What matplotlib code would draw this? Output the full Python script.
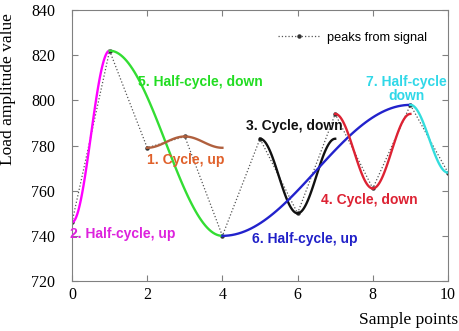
import numpy as np
import matplotlib
matplotlib.use('Agg')
import matplotlib.pyplot as plt

# peaks (one per sample point)
sample_x = [0, 1, 2, 3, 4, 5, 6, 7, 8, 9, 10]
peaks = [746, 822, 779, 784, 740, 783, 750, 794, 761, 798, 768]

# half-cycles: (color, turning point x, turning point y)
cycles = [
    ('magenta', [0, 1], [746, 822]),
    ('#33dd33', [1, 4], [822, 740]),
    ('#b0603e', [2, 3, 4], [779, 784, 779]),
    ('#111111', [5, 6, 7], [783, 750, 783]),
    ('#2222cc', [4, 9], [740, 798]),
    ('#dd2233', [7, 8, 9], [794, 761, 794]),
    ('#33dddd', [9, 10], [798, 768]),
]

labels = [
    ('5. Half-cycle, down', '#22dd22', 1.75, 808, 'left'),
    ('1. Cycle, up', '#e0602a', 2.0, 773.5, 'left'),
    ('3. Cycle, down', '#111111', 4.62, 788.5, 'left'),
    ('7. Half-cycle\ndown', '#30d8e8', 8.9, 805, 'center'),
    ('2. Half-cycle, up', '#dd22dd', -0.05, 740.8, 'left'),
    ('6. Half-cycle, up', '#2020c8', 4.78, 738.6, 'left'),
    ('4. Cycle, down', '#dd2233', 6.62, 756, 'left'),
]

fig = plt.figure(figsize=(4.6, 3.31), dpi=100)
ax = fig.add_axes([0.1565, 0.151, 0.8174, 0.8187])

ax.plot(sample_x, peaks, ':', color='#555555', lw=0.9, marker='o',
        markersize=2.2, markerfacecolor='#333333', markeredgecolor='#333333',
        label='peaks from signal')

for color, tx, ty in cycles:
    for i in range(len(tx) - 1):
        s = np.linspace(0, 1, 60)
        xs = tx[i] + (tx[i + 1] - tx[i]) * s
        ys = ty[i] + (ty[i + 1] - ty[i]) * (1 - np.cos(np.pi * s)) / 2
        ax.plot(xs, ys, color=color, lw=1.7)

for txt, col, x, y, ha in labels:
    ax.text(x, y, txt, color=col, fontsize=10, fontweight='bold',
            family='Liberation Sans', ha=ha, va='center', multialignment='center',
            linespacing=1.0)

ax.set_xlim(0, 10)
ax.set_ylim(720, 840)
ax.set_xticks([0, 2, 4, 6, 8, 10])
ax.set_yticks([720, 740, 760, 780, 800, 820, 840])
ax.tick_params(direction='in', top=True, right=True, length=4, color='#808080',
               labelsize=11.5)
ax.tick_params(axis='y', pad=12)
ax.tick_params(axis='x', pad=4)
for lab in ax.get_xticklabels() + ax.get_yticklabels():
    lab.set_family('Liberation Serif')
for sp in ax.spines.values():
    sp.set_color('#808080')

ax.set_ylabel('Load amplitude value', family='Liberation Serif', fontsize=12.5)
ax.yaxis.set_label_coords(-0.15, 0.71)
fig.text(0.997, 1 - 320 / 331, 'Sample points', family='Liberation Serif',
         fontsize=12.5, ha='right', va='center')

leg = ax.legend(loc='center left', frameon=False, bbox_to_anchor=(0.548, 0.897),
                borderpad=0, borderaxespad=0, handlelength=3.3, handletextpad=0.55,
                prop={'family': 'Liberation Sans', 'size': 9.2})

plt.savefig('out.png', dpi=100)
